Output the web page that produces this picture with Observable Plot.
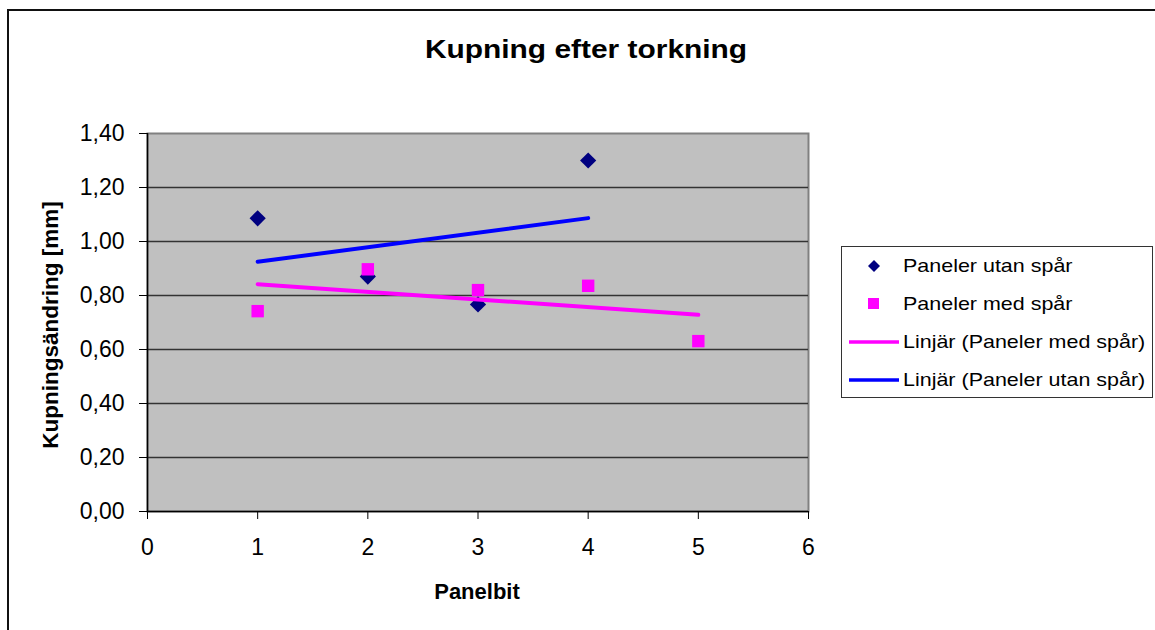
<!DOCTYPE html>
<html>
<head>
<meta charset="utf-8">
<script src="https://cdn.jsdelivr.net/npm/d3@7"></script>
<script src="https://cdn.jsdelivr.net/npm/@observablehq/plot@0.6"></script>
<style>
  html, body { margin: 0; padding: 0; background: #fff; overflow: hidden; }
  #wrap { position: relative; width: 1155px; height: 630px; font-family: "Liberation Sans", Arial, sans-serif; color: #000; }
  #border { position: absolute; left: 7px; top: 9px; width: 1160px; height: 640px; border-top: 2px solid #111; border-left: 2px solid #111; }
  #chart { position: absolute; left: 0; top: 0; }
  .txt { position: absolute; white-space: nowrap; line-height: 1; }
  #title { font-weight: bold; font-size: 26px; left: 586px; top: 36px; transform: translateX(-50%) scaleX(1.15); }
  #xlabel { font-weight: bold; font-size: 22px; left: 477px; top: 581px; transform: translateX(-50%); }
  #ylabel { font-weight: bold; font-size: 22.5px; left: 51px; top: 325px; transform: translate(-50%, -50%) rotate(-90deg); }
  #legend { position: absolute; left: 841px; top: 246px; width: 312px; height: 152px; border: 1px solid #333; background: #fff; box-sizing: border-box; }
  .lrow { position: absolute; left: 0; height: 38px; width: 311px; }
  .lrow svg { position: absolute; left: 0; top: 0; }
  .lrow span { position: absolute; left: 61px; top: 9px; font-size: 19px; line-height: 1; white-space: nowrap; transform-origin: left center; transform: scaleX(1.13); }
  #chart svg text { font-size: 23px; }
</style>
</head>
<body>
<div id="wrap">
  <div id="border"></div>
  <div id="chart"></div>
  <div id="title" class="txt"></div>
  <div id="xlabel" class="txt"></div>
  <div id="ylabel" class="txt"></div>
  <div id="legend"></div>
</div>
<script>
// ---- data ----
const panelbitUtan = [1, 2, 3, 4];
const panelerUtanSpar = [1.086, 0.87, 0.767, 1.30];
const panelbitMed = [1, 2, 3, 4, 5];
const panelerMedSpar = [0.742, 0.897, 0.82, 0.836, 0.631];
const xTicks = [0, 1, 2, 3, 4, 5, 6];
const yTicks = [0, 0.2, 0.4, 0.6, 0.8, 1.0, 1.2, 1.4];
const titleText = "Kupning efter torkning";
const xLabel = "Panelbit";
const yLabel = "Kupningsändring [mm]";
const seriesNames = ["Paneler utan spår", "Paneler med spår", "Linjär (Paneler med spår)", "Linjär (Paneler utan spår)"];
const colUtan = "#000080", colMed = "#ff00ff", colUtanTrend = "#0000ff", colMedTrend = "#ff00ff";

const utan = panelbitUtan.map((x, i) => ({x, y: panelerUtanSpar[i]}));
const med = panelbitMed.map((x, i) => ({x, y: panelerMedSpar[i]}));
const fmt = d => d.toFixed(2).replace(".", ",");

// rotated-square diamond symbol (Excel style)
const rotSquare = {
  draw(context, size) {
    const r = Math.sqrt(size) * 0.62625;
    context.moveTo(0, -r);
    context.lineTo(r, 0);
    context.lineTo(0, r);
    context.lineTo(-r, 0);
    context.closePath();
  }
};

const plot = Plot.plot({
  width: 1155,
  height: 630,
  marginLeft: 147,
  marginRight: 347,
  marginTop: 133,
  marginBottom: 119,
  style: {fontFamily: "'Liberation Sans', Arial, sans-serif", fontSize: "23px", color: "#000", background: "transparent", overflow: "visible"},
  x: {domain: [0, 6]},
  y: {domain: [0, 1.4]},
  marks: [
    Plot.frame({fill: "#c0c0c0", stroke: "#808080", strokeWidth: 2}),
    Plot.ruleY(yTicks.slice(1, -1), {stroke: "#333", strokeWidth: 1.3}),
    Plot.axisY({ticks: yTicks, tickFormat: fmt, tickSize: 8, tickPadding: 15, label: null, stroke: "#000"}),
    Plot.axisX({ticks: xTicks, tickFormat: d => String(d), tickSize: 8, tickPadding: 19, label: null, stroke: "#000"}),
    Plot.ruleX([0], {stroke: "#000", strokeWidth: 1.5}),
    Plot.ruleY([0], {stroke: "#000", strokeWidth: 1.5}),
    Plot.dot(utan, {x: "x", y: "y", symbol: rotSquare, r: 7.3, fill: colUtan, stroke: "none"}),
    Plot.dot(med, {x: "x", y: "y", symbol: "square", r: 7, fill: colMed, stroke: "none"}),
    Plot.linearRegressionY(med, {x: "x", y: "y", stroke: colMedTrend, strokeWidth: 4, ci: 0}),
    Plot.linearRegressionY(utan, {x: "x", y: "y", stroke: colUtanTrend, strokeWidth: 4, ci: 0})
  ]
});
document.getElementById("chart").appendChild(plot);

document.getElementById("title").textContent = titleText;
document.getElementById("xlabel").textContent = xLabel;
document.getElementById("ylabel").textContent = yLabel;

// legend
const legend = document.getElementById("legend");
const kinds = ["diamond", "square", "line", "line"];
const colors = [colUtan, colMed, colMedTrend, colUtanTrend];
seriesNames.forEach((name, i) => {
  const row = document.createElement("div");
  row.className = "lrow";
  row.style.top = (i * 38) + "px";
  let sym = "";
  if (kinds[i] === "diamond") sym = `<path d="M32,13 L38,19 L32,25 L26,19 Z" fill="${colors[i]}"/>`;
  else if (kinds[i] === "square") sym = `<rect x="26" y="13" width="11" height="11" fill="${colors[i]}"/>`;
  else sym = `<line x1="7" x2="57" y1="19" y2="19" stroke="${colors[i]}" stroke-width="3.5"/>`;
  row.innerHTML = `<svg width="62" height="38">${sym}</svg><span></span>`;
  row.querySelector("span").textContent = name;
  legend.appendChild(row);
});
</script>
</body>
</html>
